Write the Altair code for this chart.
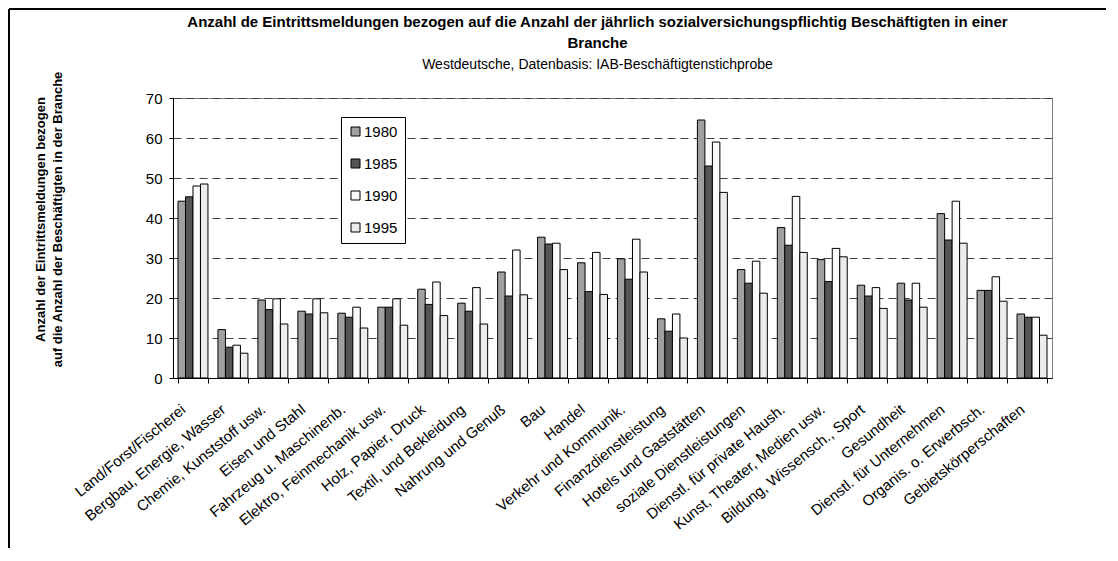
import altair as alt
import pandas as pd

categories = [
    "Land/Forst/Fischerei", "Bergbau, Energie, Wasser", "Chemie, Kunststoff usw.",
    "Eisen und Stahl", "Fahrzeug u. Maschinenb.", "Elektro, Feinmechanik usw.",
    "Holz, Papier, Druck", "Textil, und Bekleidung", "Nahrung und Genuß", "Bau",
    "Handel", "Verkehr und Kommunik.", "Finanzdienstleistung", "Hotels und Gaststätten",
    "soziale Dienstleistungen", "Dienstl. für private Haush.", "Kunst, Theater, Medien usw.",
    "Bildung, Wissensch., Sport", "Gesundheit", "Dienstl. für Unternehmen",
    "Organis. o. Erwerbsch.", "Gebietskörperschaften",
]
years = ["1980", "1985", "1990", "1995"]
v1980 = [44.2, 12.1, 19.5, 16.7, 16.2, 17.7, 22.2, 18.7, 26.5, 35.2, 28.8,
         29.8, 14.8, 64.5, 27.1, 37.6, 29.6, 23.2, 23.7, 41.1, 21.9, 16.0]
v1985 = [45.3, 7.7, 17.1, 16.0, 15.2, 17.7, 18.4, 16.7, 20.5, 33.5, 21.6,
         24.7, 11.7, 53.0, 23.7, 33.2, 24.1, 20.5, 19.5, 34.5, 21.9, 15.2]
v1990 = [48.0, 8.2, 19.8, 19.8, 17.7, 19.8, 24.0, 22.6, 32.0, 33.7, 31.4,
         34.7, 16.0, 59.0, 29.2, 45.4, 32.4, 22.6, 23.7, 44.2, 25.3, 15.2]
v1995 = [48.5, 6.2, 13.5, 16.3, 12.5, 13.2, 15.6, 13.5, 20.8, 27.1, 20.9,
         26.5, 10.0, 46.4, 21.2, 31.4, 30.3, 17.4, 17.7, 33.7, 19.2, 10.7]
colors = ["#a0a0a0", "#555555", "#fafafa", "#ececec"]

rows = []
for yr, vals in zip(years, [v1980, v1985, v1990, v1995]):
    for c, v in zip(categories, vals):
        rows.append({"Branche": c, "Jahr": yr, "Wert": v})
df = pd.DataFrame(rows)

FONT = "Liberation Sans"

bars = alt.Chart(df).mark_bar(stroke="black", strokeWidth=1).encode(
    x=alt.X("Branche:N", sort=categories,
            scale=alt.Scale(paddingInner=0.25, paddingOuter=0.125),
            axis=alt.Axis(title=None, labelAngle=-39, labelAlign="right",
                          labelBaseline="middle", labelFontSize=15, labelFont=FONT,
                          labelColor="black", labelPadding=24, labelOffset=-10,
                          tickBand="extent",
                          tickSize=5, tickColor="black", domainColor="black",
                          labelLimit=300)),
    xOffset=alt.XOffset("Jahr:N", sort=years),
    y=alt.Y("Wert:Q", scale=alt.Scale(domain=[0, 70]),
            axis=alt.Axis(values=[0, 10, 20, 30, 40, 50, 60, 70],
                          title=["Anzahl der Eintrittsmeldungen bezogen",
                                 "auf die Anzahl der Beschäftigten in der Branche"],
                          titleFont=FONT, titleFontSize=13, titleFontWeight="bold",
                          titleColor="black", titleLineHeight=17,
                          titleX=-126, titleY=121, titleAlign="center",
                          titleBaseline="bottom", titleAngle=270,
                          labelFont=FONT, labelFontSize=15, labelColor="black",
                          labelPadding=7, tickSize=4, tickColor="black",
                          domainColor="black",
                          grid=True, gridColor="#404040", gridDash=[8, 5],
                          gridWidth=1)),
    fill=alt.Fill("Jahr:N", sort=years,
                  scale=alt.Scale(domain=years, range=colors),
                  legend=alt.Legend(title=None, orient="none", legendX=168, legendY=19,
                                    strokeColor="black", fillColor="white",
                                    padding=7, symbolType="square", symbolSize=81,
                                    symbolStrokeColor="black", symbolStrokeWidth=1,
                                    labelFont=FONT, labelFontSize=15,
                                    labelColor="black", rowPadding=16,
                                    symbolOffset=0, labelOffset=1)),
)

frame = pd.DataFrame({"a": [0]})
top_line = alt.Chart(frame).mark_rule(color="black", strokeWidth=2).encode(
    x=alt.value(-164), x2=alt.value(940), y=alt.value(-89), y2=alt.value(-89))
left_line = alt.Chart(frame).mark_rule(color="black", strokeWidth=2).encode(
    x=alt.value(-164), x2=alt.value(-164), y=alt.value(-89), y2=alt.value(460))

chart = alt.layer(bars, top_line, left_line).properties(
    width=879, height=280,
    autosize=alt.AutoSizeParams(type="none"),
    padding={"left": 165, "top": 90, "right": 54, "bottom": 170},
    title=alt.TitleParams(
        text=["Anzahl de Eintrittsmeldungen bezogen auf die Anzahl der jährlich sozialversichungspflichtig Beschäftigten in einer",
              "Branche"],
        subtitle="Westdeutsche, Datenbasis: IAB-Beschäftigtenstichprobe",
        font=FONT, fontSize=15, fontWeight="bold", color="black", lineHeight=21,
        subtitleFont=FONT, subtitleFontSize=14, subtitleFontWeight="normal",
        subtitleColor="black", subtitlePadding=7, anchor="middle", frame="group",
        dx=-15, offset=-64),
).configure_view(stroke="#808080", strokeWidth=1)

chart.save("out.html", embed_options={"renderer": "svg", "actions": False})
